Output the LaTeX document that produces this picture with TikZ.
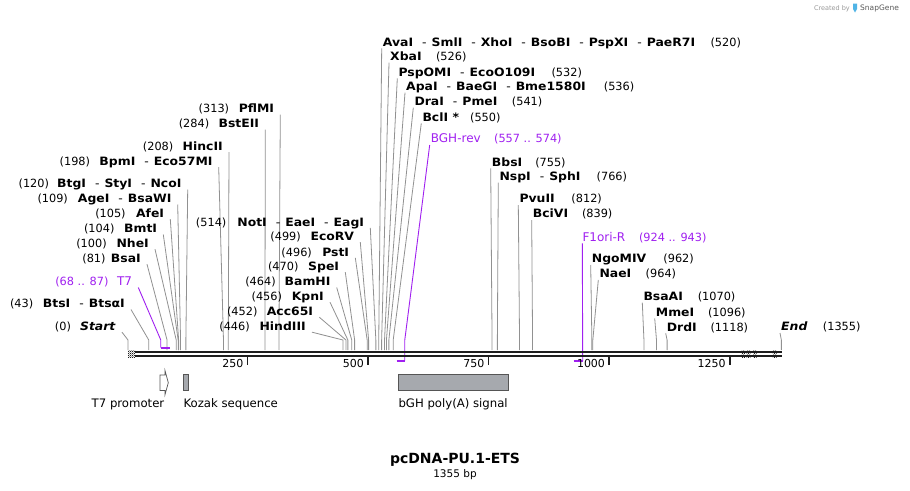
\documentclass[tikz,border=0pt]{standalone}
\usepackage{fontspec}
\setmainfont{DejaVu Sans}
\newfontfamily\lblfont{DejaVu Sans}[FakeStretch=1.08]
\usetikzlibrary{patterns}
\definecolor{prim}{RGB}{160,32,240}
\definecolor{cutgray}{RGB}{145,145,145}
\definecolor{bb}{RGB}{30,30,30}
\definecolor{featgray}{RGB}{166,169,174}
\definecolor{featedge}{RGB}{85,85,85}
\definecolor{sgblue}{RGB}{80,180,230}
\pgfdeclarepatternformonly{finecheck}{\pgfpointorigin}{\pgfqpoint{2pt}{2pt}}{\pgfqpoint{2pt}{2pt}}{%
  \pgfpathrectangle{\pgfpointorigin}{\pgfqpoint{1pt}{1pt}}%
  \pgfpathrectangle{\pgfqpoint{1pt}{1pt}}{\pgfqpoint{1pt}{1pt}}%
  \pgfusepath{fill}}
\newcommand\dsh{{\mdseries\hspace{9pt}-\hspace{5pt}}}
% #1 id, #2 name right x, #3 y, #4 name, #5 gap, #6 number, #7 bp
\newcommand\enzL[7]{%
  \node[nm,anchor=mid east] (n#1) at ({#2},{#3+1}) {#4};
  \node[num,anchor=mid east] (u#1) at ([xshift=-#5pt]n#1.mid west) {#6};
  \coordinate (k#1) at ({128+0.4822*#7},350);
  \draw[cut] ([shift={(6pt,-4.5pt)}]n#1.mid east) -- ([yshift=10pt]k#1) -- (k#1);
}
% #1 id, #2 name left x, #3 y, #4 name, #5 gap, #6 number, #7 bp
\newcommand\enzR[7]{%
  \node[nm,anchor=mid west] (n#1) at ({#2},{#3+1}) {#4};
  \node[num,anchor=mid west] (u#1) at ([xshift=#5pt]n#1.mid east) {#6};
  \coordinate (k#1) at ({128+0.4822*#7},350);
  \draw[cut] ([shift={(-1pt,-5pt)}]n#1.mid west) -- ([yshift=10pt]k#1) -- (k#1);
}
\begin{document}
\begin{tikzpicture}[x=1pt,y=-1pt,
  nm/.style={inner sep=0pt,font=\fontsize{11.5}{13}\lblfont\bfseries},
  num/.style={inner sep=0pt,font=\fontsize{11.3}{13}\selectfont},
  prm/.style={inner sep=0pt,text=prim,font=\fontsize{12}{14}\selectfont},
  prmnum/.style={inner sep=0pt,text=prim,font=\fontsize{11.3}{13}\selectfont},
  feat/.style={inner sep=0pt,font=\fontsize{11.7}{14}\selectfont},
  ticklab/.style={inner sep=0pt,font=\fontsize{11}{13}\selectfont},
  cut/.style={draw=cutgray,line width=0.8pt},
  prmline/.style={draw=prim,line width=0.9pt},
  prmbar/.style={draw=prim,line width=2pt},
  bbline/.style={draw=bb,line width=2.4pt},
  tickmark/.style={draw=bb,line width=1.5pt},
  featbox/.style={draw=featedge,line width=0.7pt,fill=featgray},
  check/.style={fill=white,pattern=finecheck,pattern color=bb}]
\useasboundingbox (0,0) rectangle (910,490);
\fill[white] (0,0) rectangle (910,490);

% watermark
\node[inner sep=0pt,anchor=mid east,text=gray!80,font=\fontsize{6.5}{8}\selectfont] (wm1) at (850,8) {Created by};
\fill[sgblue] (853,3.5) -- (857,3.5) -- (857,9) -- (855,12.5) -- (853,9) -- cycle;
\node[inner sep=0pt,anchor=mid west,text=gray!70!black,font=\fontsize{7.5}{9}\selectfont] (wm2) at (860,8) {SnapGene};

% left group
\enzL{start}{116}{326.7}{\textit{Start}}{8.7}{(0)}{0}
\enzL{bts}{125}{304}{BtsI\dsh BtsαI}{9.3}{(43)}{43}
\enzL{bsa}{141}{258.7}{BsaI}{5}{(81)}{81}
\enzL{nhe}{149}{243.7}{NheI}{9.4}{(100)}{100}
\enzL{bmt}{157.3}{229}{BmtI}{9.3}{(104)}{104}
\enzL{afe}{164.3}{213.7}{AfeI}{10}{(105)}{105}
\enzL{age}{171.7}{199}{AgeI\dsh BsaWI}{9.6}{(109)}{109}
\enzL{btg}{181.7}{184}{BtgI\dsh StyI\dsh NcoI}{7.7}{(120)}{120}
\enzL{bpm}{212.7}{161.7}{BpmI\dsh Eco57MI}{9}{(198)}{198}
\enzL{hinc}{223}{146.7}{HincII}{9}{(208)}{208}
\enzL{bste}{259.3}{124}{BstEII}{9}{(284)}{284}
\enzL{pflm}{274.3}{109}{PflMI}{9.3}{(313)}{313}
\enzL{not}{364.3}{222.3}{NotI\dsh EaeI\dsh EagI}{10.6}{(514)}{514}
\enzL{ecorv}{354.3}{236.7}{EcoRV}{9.3}{(499)}{499}
\enzL{pst}{349.3}{252.3}{PstI}{10}{(496)}{496}
\enzL{spe}{339.3}{266.7}{SpeI}{9.4}{(470)}{470}
\enzL{bam}{330.7}{282}{BamHI}{8.6}{(464)}{464}
\enzL{kpn}{324}{296.7}{KpnI}{9.4}{(456)}{456}
\enzL{acc}{313.3}{311.7}{Acc65I}{9}{(452)}{452}
\enzL{hind}{306}{326.7}{HindIII}{9.4}{(446)}{446}

% top group
\enzR{ava}{382.7}{42.3}{AvaI\dsh SmlI\dsh XhoI\dsh BsoBI\dsh PspXI\dsh PaeR7I}{15}{(520)}{520}
\enzR{xba}{390}{56.7}{XbaI}{14}{(526)}{526}
\enzR{psp}{398.3}{72.3}{PspOMI\dsh EcoO109I}{16}{(532)}{532}
\enzR{apa}{406}{86.7}{ApaI\dsh BaeGI\dsh Bme1580I}{17.7}{(536)}{536}
\enzR{dra}{414.3}{101.7}{DraI\dsh PmeI}{14}{(541)}{541}
\enzR{bcl}{422.3}{117.3}{BclI *}{10.7}{(550)}{550}

% right group
\enzR{bbs}{491.7}{162.3}{BbsI}{12.6}{(755)}{755}
\enzR{nsp}{499.3}{176.7}{NspI\dsh SphI}{15.7}{(766)}{766}
\enzR{pvu}{519.3}{199}{PvuII}{16.3}{(812)}{812}
\enzR{bci}{532.7}{214}{BciVI}{13.4}{(839)}{839}
\enzR{ngo}{591.7}{259}{NgoMIV}{16.7}{(962)}{962}
\enzR{nae}{599.3}{274}{NaeI}{14}{(964)}{964}
\enzR{bsaa}{643.3}{296.7}{BsaAI}{14.4}{(1070)}{1070}
\enzR{mme}{655.7}{312.3}{MmeI}{13.4}{(1096)}{1096}
\enzR{drd}{666.7}{327.3}{DrdI}{13.3}{(1118)}{1118}
\enzR{end}{781}{327}{\textit{End}}{15}{(1355)}{1355}

% primers
\node[prm,anchor=mid east] (t7n) at (132.3,283) {T7};
\node[prmnum,anchor=mid east] (t7u) at ([xshift=-8.3pt]t7n.mid west) {(68 .. 87)};
\coordinate (t7a) at ({128+0.4822*68},347.7);
\coordinate (t7b) at ({128+0.4822*87},347.7);
\draw[prmline] ([shift={(6pt,-4.5pt)}]t7n.mid east) -- ([yshift=7.7pt]t7a) -- (t7a);
\draw[prmbar] (t7a) -- (t7b);

\node[prm,anchor=mid west] (bghn) at (430.7,140) {BGH-rev};
\node[prmnum,anchor=mid west] (bghu) at ([xshift=13pt]bghn.mid east) {(557 .. 574)};
\coordinate (bgha) at ({128+0.4822*557},360.7);
\coordinate (bghb) at ({128+0.4822*574},360.7);
\draw[prmline] ([shift={(-1pt,-5pt)}]bghn.mid west) -- ([yshift=20.7pt]bghb) -- (bghb);
\draw[prmbar] (bgha) -- (bghb);

\node[prm,anchor=mid west] (f1n) at (582.3,238.3) {F1ori-R};
\node[prmnum,anchor=mid west] (f1u) at ([xshift=13.3pt]f1n.mid east) {(924 .. 943)};
\coordinate (f1a) at ({128+0.4822*924},361);
\coordinate (f1b) at ({128+0.4822*943},361);
\draw[prmline] ([shift={(0pt,-5pt)}]f1n.mid west) -- (f1b);
\draw[prmbar] (f1a) -- (f1b);

% backbone
\coordinate (bbs) at (134.5,352.2);
\coordinate (bbe) at (781.9,352.2);
\draw[bbline] (bbs) -- (bbe);
\draw[bbline] ([yshift=-4pt]bbs) -- ([yshift=-4pt]bbe);
\draw[check,draw=none] (128,350.7) rectangle (135,357.5);
\foreach \a/\b in {741.7/745,746.7/750.3,753/756.7,772.8/776.7}
  \draw[check,draw=none] (\a,350.7) rectangle (\b,357.5);

% ticks
\foreach \t in {250,500,750,1000,1250}{
  \draw[tickmark] ({128+0.4822*\t-1},357.3) -- ({128+0.4822*\t-1},364.5);
  \node[ticklab,anchor=mid east] (tl\t) at ({128+0.4822*\t-5},365) {\t};
}

% features
\draw[draw=featedge,line width=0.7pt,fill=white] (160,375) -- (165,375) -- (165,370.5) -- (168.3,382.7) -- (165,394.7) -- (165,390.5) -- (160,390.5) -- cycle;
\draw[featbox] (183.3,374.3) rectangle (188.3,390.7);
\draw[featbox] (398.3,374.3) rectangle (508.3,390.7);
\node[feat,anchor=mid] (t7p) at (128,405) {T7 promoter};
\node[feat,anchor=mid west] (koz) at (183.3,405) {Kozak sequence};
\node[feat,anchor=mid west] (bgh) at (398.3,405) {bGH poly(A) signal};

% title
\node[inner sep=0pt,anchor=mid,font=\fontsize{14}{16}\selectfont\bfseries] (title) at (455,461) {pcDNA-PU.1-ETS};
\node[inner sep=0pt,anchor=mid,font=\fontsize{10.5}{12}\selectfont] (size) at (455,475) {1355 bp};
\end{tikzpicture}
\end{document}
